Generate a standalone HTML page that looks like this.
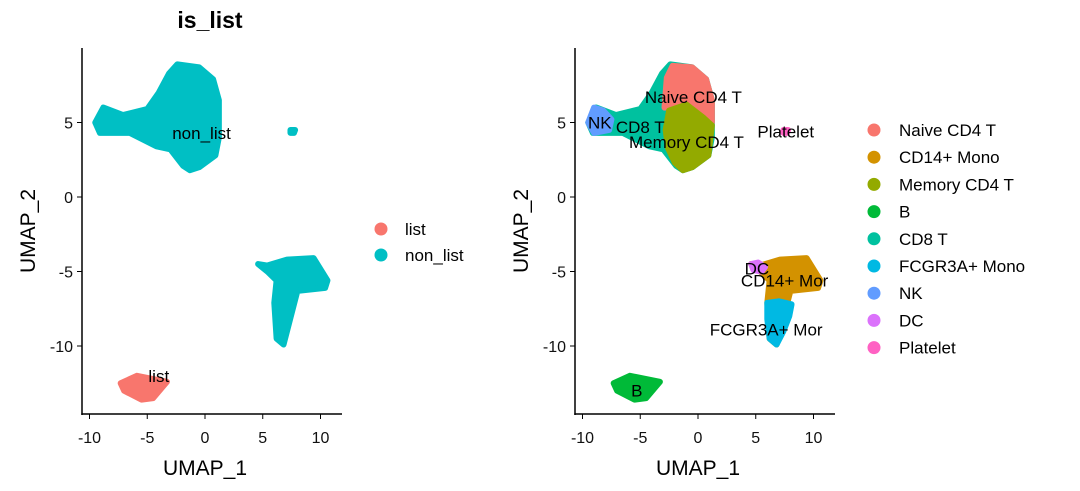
<!DOCTYPE html>
<html><head><meta charset="utf-8"><style>
body{margin:0;background:#fff;}
svg{display:block;font-family:"Liberation Sans",sans-serif;}
</style></head><body>
<svg id="c" width="1080" height="491"></svg>
<script>
// ---- data (UMAP coordinates, cluster outlines) ----
const xTicks = [-10, -5, 0, 5, 10];
const yTicks = [5, 0, -5, -10];
const leftGroups = ["list", "non_list"];
const leftColors = ["#F8766D", "#00BFC4"];
const cellTypes = ["Naive CD4 T","CD14+ Mono","Memory CD4 T","B","CD8 T","FCGR3A+ Mono","NK","DC","Platelet"];
const typeColors = ["#F8766D","#D39200","#93AA00","#00BA38","#00C19F","#00B9E3","#619CFF","#DB72FB","#FF61C3"];
const tOutline = [[-9.5,5.0],[-8.8,6.0],[-7.1,5.5],[-5,5.9],[-4.0,7.0],[-3.1,8.3],[-2.4,8.9],[-0.5,8.7],[0.7,7.9],[1.2,6.5],[1.2,4],[0.9,2.8],[-0.5,2.0],[-1.3,1.8],[-1.9,2.1],[-3,3.2],[-4.2,3.4],[-6.5,4.3],[-9.1,4.3]];
const monoOutline = [[4.6,-4.5],[5.4,-4.6],[7.1,-4.2],[9.4,-4.1],[10.6,-5.6],[10.4,-6.1],[8,-6.3],[7.5,-7.8],[6.8,-9.9],[6.2,-9.5],[6.0,-7.1],[6.2,-5.6],[5.4,-5.0]];
const bOutline = [[-7.3,-12.5],[-5.9,-12.0],[-3.3,-12.4],[-4.5,-13.5],[-5.5,-13.6],[-7.0,-13.0]];
const plateletOutline = [[7.4,4.5],[7.8,4.5],[7.7,4.3],[7.4,4.3]];
const naiveOutline = [[-2.9,6.0],[-2.7,8],[-2.2,8.8],[-0.5,8.7],[0.7,7.9],[1.2,6.5],[1.2,5],[0.5,5.3],[-1,6.2],[-2,6.1]];
const memoryOutline = [[-2.5,5.8],[-1,6.2],[0.5,5.3],[1.2,4.8],[0.9,2.8],[-0.5,2.0],[-1.3,1.8],[-2,2.3],[-2.6,3.3],[-2.8,4.5]];
const nkOutline = [[-9.5,5.0],[-9.0,6.0],[-8.2,5.8],[-7.5,5.2],[-7.7,4.5],[-9.0,4.3]];
const fcgrOutline = [[6.0,-7.1],[7.0,-7.0],[8.1,-7.2],[7.9,-8.0],[7.4,-9.0],[6.8,-9.9],[6.2,-9.5],[6.0,-8.2]];
const dcOutline = [[4.6,-4.5],[5.2,-4.4],[5.8,-4.7],[5.5,-5.0],[4.8,-4.9]];
const leftLabels = [["non_list",-0.3,4.3],["list",-4.0,-12.0]];
const rightLabels = [["Naive CD4 T",-0.4,6.7],["NK",-8.5,5.0],["CD8 T",-5.0,4.7],["Memory CD4 T",-1.0,3.7],["Platelet",7.6,4.4],["DC",5.1,-4.8],["CD14+ Mor",7.5,-5.6],["FCGR3A+ Mor",5.9,-8.9],["B",-5.3,-13.0]];

const NS="http://www.w3.org/2000/svg";
const svg=document.getElementById('c');
function el(t,a,p){const e=document.createElementNS(NS,t);for(const k in a)e.setAttribute(k,a[k]);(p||svg).appendChild(e);return e;}
const yS=v=>197-v*14.9;
function panel(x0,name){
  const xS=v=>x0+v*11.55;
  const ax=x0-123, g=el('g',{});
  
  
  const cid=name+'-clip';
  const cp=el('clipPath',{id:cid},g);el('rect',{x:ax,y:40,width:262,height:376},cp);
  const plot=el('g',{'clip-path':'url(#'+cid+')'},g);
  const ya=el('line',{x1:ax,y1:48,x2:ax,y2:415,stroke:'#000','stroke-width':1.5},g);
  
  const xa=el('line',{x1:ax-0.7,y1:414,x2:ax+260,y2:414,stroke:'#000','stroke-width':1.5},g);
  
  xTicks.forEach(t=>{el('line',{x1:xS(t),x2:xS(t),y1:414,y2:419,stroke:'#000'},g);
    const tx=el('text',{x:xS(t),y:443,'text-anchor':'middle','font-size':16,fill:'#111'},g);tx.textContent=t;
    });
  yTicks.forEach(t=>{el('line',{x1:ax-5,x2:ax,y1:yS(t),y2:yS(t),stroke:'#000'},g);
    const tx=el('text',{x:ax-9,y:yS(t)+6,'text-anchor':'end','font-size':16,fill:'#111'},g);tx.textContent=t;
    });
  const xt=el('text',{x:ax+123,y:475,'text-anchor':'middle','font-size':21},g);xt.textContent='UMAP_1';
  
  const yt=el('text',{x:0,y:0,'text-anchor':'middle','font-size':21,transform:`translate(${ax-47},231) rotate(-90)`},g);yt.textContent='UMAP_2';
  
  return {xS,plot,g};
}
function blob(P,pts,col,nm){
  const p=el('polygon',{points:pts.map(q=>P.xS(q[0])+','+yS(q[1])).join(' '),fill:col,stroke:col,'stroke-width':6,'stroke-linejoin':'round'},P.plot);
  
}
function label(P,l){const t=el('text',{x:P.xS(l[1]),y:yS(l[2])+6,'text-anchor':'middle','font-size':17},P.plot);t.textContent=l[0];
  }

const L=panel(205,'left-panel');
blob(L,tOutline,leftColors[1],'non-list-t-cluster');
blob(L,plateletOutline,leftColors[1],'non-list-platelet');
blob(L,monoOutline,leftColors[1],'non-list-mono-cluster');
blob(L,bOutline,leftColors[0],'list-b-cluster');
leftLabels.forEach(l=>label(L,l));
const ttl=el('text',{x:210,y:28,'text-anchor':'middle','font-size':23,'font-weight':'bold'});ttl.textContent='is_list';

leftGroups.forEach((g,i)=>{const y=229+i*26;
  const c=el('circle',{cx:381,cy:y,r:6.5,fill:leftColors[i]});
  const t=el('text',{x:405,y:y+6,'font-size':17});t.textContent=g;});

const R=panel(698,'right-panel');
blob(R,tOutline,typeColors[4],'cd8-t-cluster');
blob(R,naiveOutline,typeColors[0],'naive-cd4-cluster');
blob(R,memoryOutline,typeColors[2],'memory-cd4-cluster');
blob(R,nkOutline,typeColors[6],'nk-cluster');
blob(R,plateletOutline,typeColors[8],'platelet-cluster');
blob(R,monoOutline,typeColors[1],'cd14-mono-cluster');
blob(R,fcgrOutline,typeColors[5],'fcgr3a-mono-cluster');
blob(R,dcOutline,typeColors[7],'dc-cluster');
blob(R,bOutline,typeColors[3],'b-cluster');
rightLabels.forEach(l=>label(R,l));
cellTypes.forEach((g,i)=>{const y=130+i*27.2;
  const c=el('circle',{cx:874,cy:y,r:6.5,fill:typeColors[i]});
  const t=el('text',{x:899,y:y+6,'font-size':17});t.textContent=g;});
</script>
</body></html>
